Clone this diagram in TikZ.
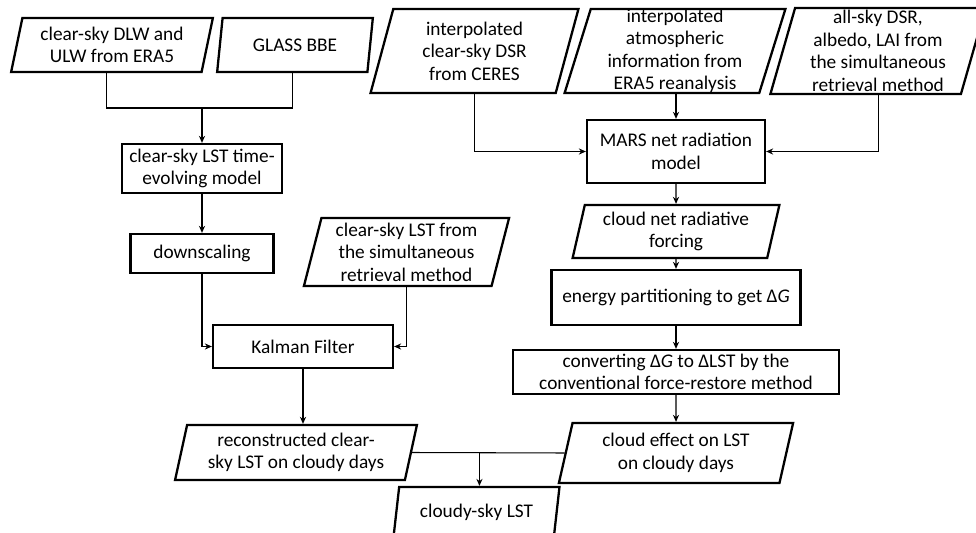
\documentclass[tikz,border=0pt]{standalone}
\usepackage{fontspec}
\setmainfont{Carlito}
\usepackage{tikz}
\usetikzlibrary{shapes.geometric,arrows.meta}

\begin{document}
\begin{tikzpicture}[
    data/.style={trapezium, trapezium left angle=76, trapezium right angle=104,
        trapezium stretches=true, draw, line width=1.3pt, inner sep=0pt,
        align=center, font=\fontsize{11}{12.8}\selectfont},
    proc/.style={rectangle, draw, line width=1.3pt, inner sep=0pt,
        align=center, font=\fontsize{11}{12.8}\selectfont},
    link/.style={line width=0.6pt},
    arr/.style={line width=0.6pt, -{Stealth[length=4pt,width=3.5pt]}}
]

\useasboundingbox (0,0) rectangle (19.52,-10.66);
\clip (0,0) rectangle (19.52,-10.66);

% Inputs (top row)
\node[data, minimum width=4.04cm, minimum height=1.08cm] (dlw) at (2.24,-0.90) {clear-sky DLW and\\ULW from ERA5};
\node[data, minimum width=3.12cm, minimum height=1.08cm] (glass) at (5.90,-0.90) {GLASS BBE};
\node[data, minimum width=4.18cm, minimum height=1.68cm] (ceres) at (9.49,-1.02) {interpolated\\clear-sky DSR\\from CERES};
\node[data, minimum width=4.44cm, minimum height=1.68cm] (era) at (13.50,-1.02) {interpolated\\atmospheric\\information from\\ERA5 reanalysis};
\node[data, minimum width=4.34cm, minimum height=1.72cm] (allsky) at (17.56,-1.02) {all-sky DSR,\\albedo, LAI from\\the simultaneous\\retrieval method};

% Clear-sky branch
\node[proc, minimum width=3.20cm, minimum height=0.98cm] (model) at (4.04,-3.37) {clear-sky LST time-\\evolving model};
\node[proc, minimum width=2.86cm, minimum height=0.78cm] (down) at (4.04,-5.07) {downscaling};
\node[data, minimum width=4.14cm, minimum height=1.36cm] (simlst) at (8.13,-5.04) {clear-sky LST from\\the simultaneous\\retrieval method};
\node[proc, minimum width=3.60cm, minimum height=0.86cm] (kalman) at (6.06,-6.93) {Kalman Filter};
\node[data, minimum width=4.84cm, minimum height=1.10cm] (recon) at (5.92,-9.05) {reconstructed clear-\\sky LST on cloudy days};

% Cloud effect branch
\node[proc, minimum width=3.56cm, minimum height=1.26cm] (mars) at (13.52,-3.03) {MARS net radiation\\model};
\node[data, minimum width=4.14cm, minimum height=1.06cm] (cnrf) at (13.52,-4.63) {cloud net radiative\\forcing};
\node[proc, minimum width=4.98cm, minimum height=1.10cm] (energy) at (13.52,-5.95) {energy partitioning to get Δ\textit{G}};
\node[proc, minimum width=6.52cm, minimum height=0.88cm] (convert) at (13.52,-7.44) {converting Δ\textit{G} to ΔLST by the\\conventional force-restore method};
\node[data, minimum width=4.70cm, minimum height=1.20cm] (effect) at (13.52,-9.06) {cloud effect on LST\\on cloudy days};

% Output
\node[data, minimum width=3.34cm, minimum height=1.00cm] (cloudy) at (9.53,-10.24) {cloudy-sky LST};

% Connectors
\coordinate (j1) at (4.04,-2.16);
\draw[link] (dlw.bottom side) |- (j1) -| (glass.bottom side);
\draw[arr] (j1) -- (model.north);
\draw[arr] (model.south) -- (down.north);
\draw[arr] (down.south) |- (kalman.west);
\draw[arr] (simlst.south) |- (kalman.east);
\draw[arr] (kalman.south) -- (kalman.south |- recon.top side);

\draw[arr] (ceres.south) |- (mars.west);
\draw[arr] (mars.north |- era.south) -- (mars.north);
\draw[arr] (allsky.south) |- (mars.east);
\draw[arr] (mars.south) -- (cnrf.north);
\draw[arr] (cnrf.south) -- (energy.north);
\draw[arr] (energy.south) -- (convert.north);
\draw[arr] (convert.south) -- (effect.north);

\coordinate (j2) at (cloudy.top side |- recon.east);
\draw[link] (recon.east) -- (effect.west);
\draw[arr] (j2) -- (cloudy.top side);

\end{tikzpicture}
\end{document}
